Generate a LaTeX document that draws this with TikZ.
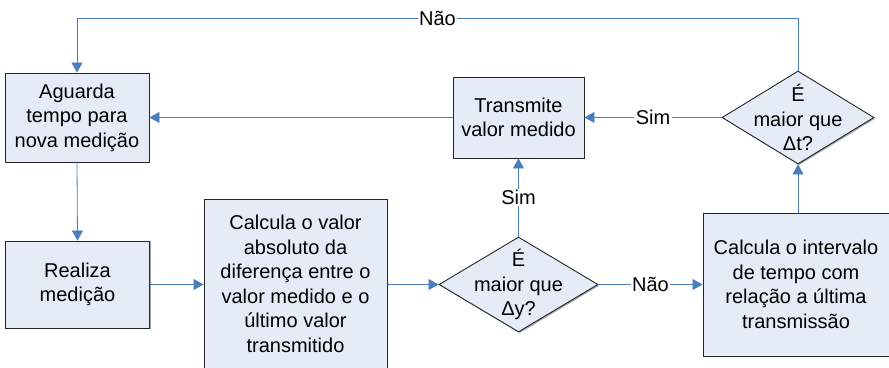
\documentclass[tikz,border=0pt]{standalone}
\usepackage{fontspec}
\setmainfont{Liberation Sans}
\usetikzlibrary{arrows.meta,shapes.geometric,shadows}
\definecolor{boxfill}{HTML}{E6ECF7}
\definecolor{linkblue}{HTML}{4A7EBB}
\begin{document}
\begin{tikzpicture}[x=1pt,y=-1pt,
  txt/.style={font=\fontsize{20}{24.5}\selectfont, align=center},
  procbox/.style={txt, rectangle, draw=black!85, fill=boxfill, line width=0.9pt, inner sep=0pt,
    drop shadow={shadow xshift=1.2pt, shadow yshift=-1.2pt, fill=black!35, opacity=1}},
  decbox/.style={diamond, draw=black!85, fill=boxfill, line width=0.9pt, inner sep=0pt,
    drop shadow={shadow xshift=1.2pt, shadow yshift=-1.2pt, fill=black!35, opacity=1}},
  link/.style={draw=linkblue, line width=0.8pt, -{Triangle[length=10pt,width=11pt]}},
  plain/.style={draw=linkblue, line width=0.8pt},
  lbl/.style={txt, fill=white, inner sep=1.5pt}
]
\useasboundingbox (0,0) rectangle (889,367);

\node[procbox, minimum width=144, minimum height=89] (A) at (77,117.5) {Aguarda\\tempo para\\nova medição};
\node[procbox, minimum width=144, minimum height=87] (R) at (77.5,284.5) {Realiza\\medição};
\node[procbox, minimum width=183, minimum height=170] (C) at (295.5,284) {Calcula o valor\\absoluto da\\diferença entre o\\valor medido e o\\último valor\\transmitido};
\node[decbox, minimum width=159, minimum height=95] (D1) at (518.5,284.5) {};
\node[txt] (D1t) at (D1.center) {É\\maior que\\Δy?};
\node[procbox, minimum width=131, minimum height=81] (T) at (518.5,117.5) {Transmite\\valor medido};
\node[decbox, minimum width=152, minimum height=93] (D2) at (798,117.5) {};
\node[txt] (D2t) at (D2.center) {É\\maior que\\Δt?};
\node[procbox, minimum width=186, minimum height=143] (I) at (796,284.5) {Calcula o intervalo\\de tempo com\\relação a última\\transmissão};

\coordinate (topR) at (798,18);
\coordinate (topL) at (77,18);

\draw[link] (A.south) -- (R.north);
\draw[link] (R.east) -- (R.east -| C.west);
\draw[link] (C.east |- D1.west) -- (D1.west);
\draw[link] (D1.east) -- node[lbl]{Não} (D1.east -| I.west);
\draw[link] (D1.north) -- node[lbl]{Sim} (T.south);
\draw[link] (D2.south |- I.north) -- (D2.south);
\draw[link] (D2.west) -- node[lbl]{Sim} (T.east);
\draw[link] (T.west) -- (T.west -| A.east);
\draw[plain] (D2.north) -- (topR) -- node[lbl]{Não} (topL);
\draw[link] (topL) -- (A.north);
\end{tikzpicture}
\end{document}
